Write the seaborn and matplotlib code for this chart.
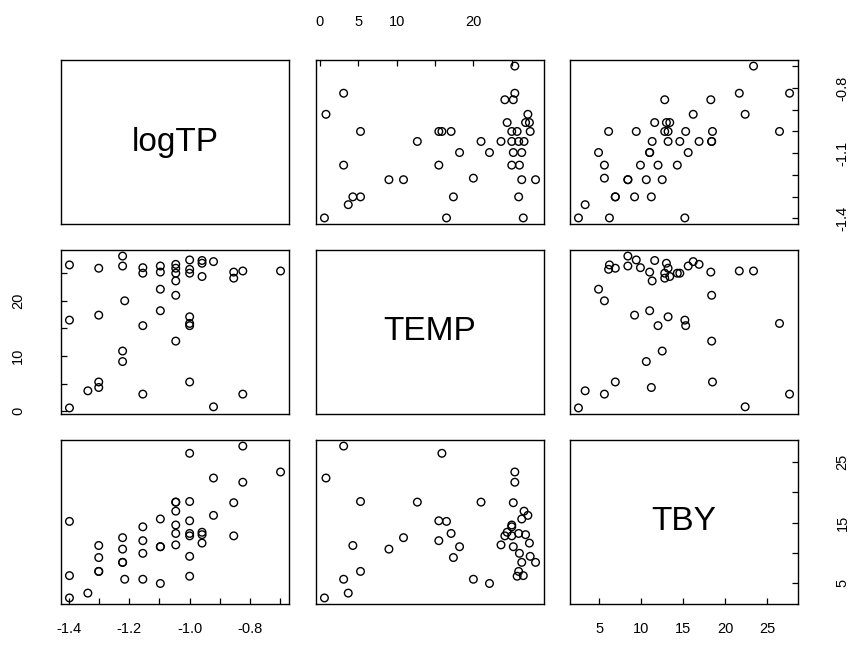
#!/usr/bin/env python3

# Scatterplot matrix of logTP, TEMP and TBY, drawn like R's pairs()

import matplotlib
matplotlib.use("Agg")
import matplotlib.pyplot as plt
import seaborn as sns
import pandas as pd

logtp = [-0.699, -0.824, -0.824, -0.854, -0.854, -0.921, -0.921, -0.959, -0.959, -0.959,
         -1.000, -1.000, -1.000, -1.000, -1.000, -1.000, -1.000,
         -1.046, -1.046, -1.046, -1.046, -1.046, -1.046,
         -1.097, -1.097, -1.097, -1.097, -1.155, -1.155, -1.155, -1.155,
         -1.215, -1.222, -1.222, -1.222, -1.222,
         -1.301, -1.301, -1.301, -1.301, -1.337, -1.398, -1.398, -1.398]
temp = [25.4, 3.1, 25.4, 25.2, 24.1, 0.8, 27.1, 27.3, 26.8, 24.4,
        5.3, 15.9, 15.5, 17.1, 27.4, 25.7, 25.0,
        12.7, 21.0, 23.6, 26.6, 25.0, 25.9,
        18.2, 22.1, 26.3, 25.2, 3.1, 15.5, 25.0, 26.0,
        20.0, 9.0, 10.9, 28.1, 26.3,
        4.3, 5.3, 17.4, 25.9, 3.7, 0.6, 16.5, 26.5]
tby = [23.4, 27.7, 21.7, 18.3, 12.8, 22.4, 16.2, 11.6, 13.0, 13.4,
       18.5, 26.5, 15.3, 13.2, 9.4, 6.1, 12.8,
       18.4, 18.4, 11.3, 16.9, 14.6, 13.2,
       11.0, 4.9, 15.6, 11.0, 5.6, 12.0, 14.3, 9.9,
       5.6, 10.6, 12.5, 8.4, 8.4,
       11.2, 6.9, 9.2, 6.9, 3.3, 2.5, 15.2, 6.2]

names = ["logTP", "TEMP", "TBY"]
ticks = {"logTP": [-1.4, -1.3, -1.2, -1.1, -1.0, -0.9, -0.8, -0.7],
         "TEMP": [0, 5, 10, 15, 20, 25],
         "TBY": [5, 10, 15, 20, 25]}
# labels R manages to print on each side (overlapping ones are dropped)
labels = {("logTP", "bottom"): ["-1.4", "", "-1.2", "", "-1.0", "", "-0.8", ""],
          ("logTP", "right"): ["-1.4", "", "", "-1.1", "", "", "-0.8", ""],
          ("TEMP", "top"): ["0", "5", "10", "", "20", ""],
          ("TEMP", "left"): ["0", "", "10", "", "20", ""],
          ("TBY", "bottom"): ["5", "10", "15", "20", "25"],
          ("TBY", "right"): ["5", "", "15", "", "25"]}

df = pd.DataFrame({"logTP": logtp, "TEMP": temp, "TBY": tby})

sns.set_style("white")
plt.rcParams["font.family"] = ["Liberation Sans", "DejaVu Sans"]
plt.rcParams.update({
    "axes.linewidth": 1.0, "axes.edgecolor": "black",
    "text.color": "black", "xtick.color": "black", "ytick.color": "black",
    "xtick.direction": "in", "ytick.direction": "in",
    "xtick.major.size": 4.0, "ytick.major.size": 4.0,
    "xtick.major.width": 0.9, "ytick.major.width": 0.9,
    "xtick.labelsize": 10.5, "ytick.labelsize": 10.5,
})

W, H = 851, 658
cols = [61, 316, 570]
rows = [60, 250, 440]
pw, ph = 228, 164

lims = {}
for v in names:
    lo, hi = df[v].min(), df[v].max()
    r = hi - lo
    lims[v] = (lo - 0.04 * r, hi + 0.04 * r)

fig = plt.figure(figsize=(W / 100, H / 100), dpi=100)
fig.patch.set_facecolor("white")

for i, yv in enumerate(names):
    for j, xv in enumerate(names):
        ax = fig.add_axes([cols[j] / W, 1 - (rows[i] + ph) / H, pw / W, ph / H])
        if i == j:
            ax.text(0.5, 0.5, yv, transform=ax.transAxes, ha="center", va="center",
                    fontsize=24, color="black")
        else:
            sns.scatterplot(x=xv, y=yv, data=df, ax=ax, marker="o", s=30,
                            facecolor="none", edgecolor="black", linewidth=1.0,
                            legend=False)
        ax.set_xlim(lims[xv])
        ax.set_ylim(lims[yv])
        ax.set_xlabel("")
        ax.set_ylabel("")
        ax.set_xticks(ticks[xv])
        ax.set_yticks(ticks[yv])

        xb, xt, yl, yr = "", "", "", ""
        # R pairs: x axis alternates bottom/top, y axis alternates right/left
        if i == 2 and j % 2 == 0:
            xb = "bottom"
        if i == 0 and j % 2 == 1:
            xt = "top"
        if j == 0 and i % 2 == 1:
            yl = "left"
        if j == 2 and i % 2 == 0:
            yr = "right"

        if xb or xt:
            ax.set_xticklabels(labels[(xv, xb or xt)])
        if yl or yr:
            ax.set_yticklabels(labels[(yv, yl or yr)], rotation=90, va="center")

        ax.tick_params(axis="x", direction="in", length=4, width=0.9, color="black",
                       bottom=bool(xb), labelbottom=bool(xb),
                       top=bool(xt), labeltop=bool(xt),
                       pad=13 if xb else 22)
        ax.tick_params(axis="y", direction="in", length=4, width=0.9, color="black",
                       left=bool(yl), labelleft=bool(yl),
                       right=bool(yr), labelright=bool(yr),
                       pad=26 if yl else 27)

        for sp in ax.spines.values():
            sp.set_visible(True)
            sp.set_color("black")

fig.savefig("out.png", dpi=100, facecolor="white")
